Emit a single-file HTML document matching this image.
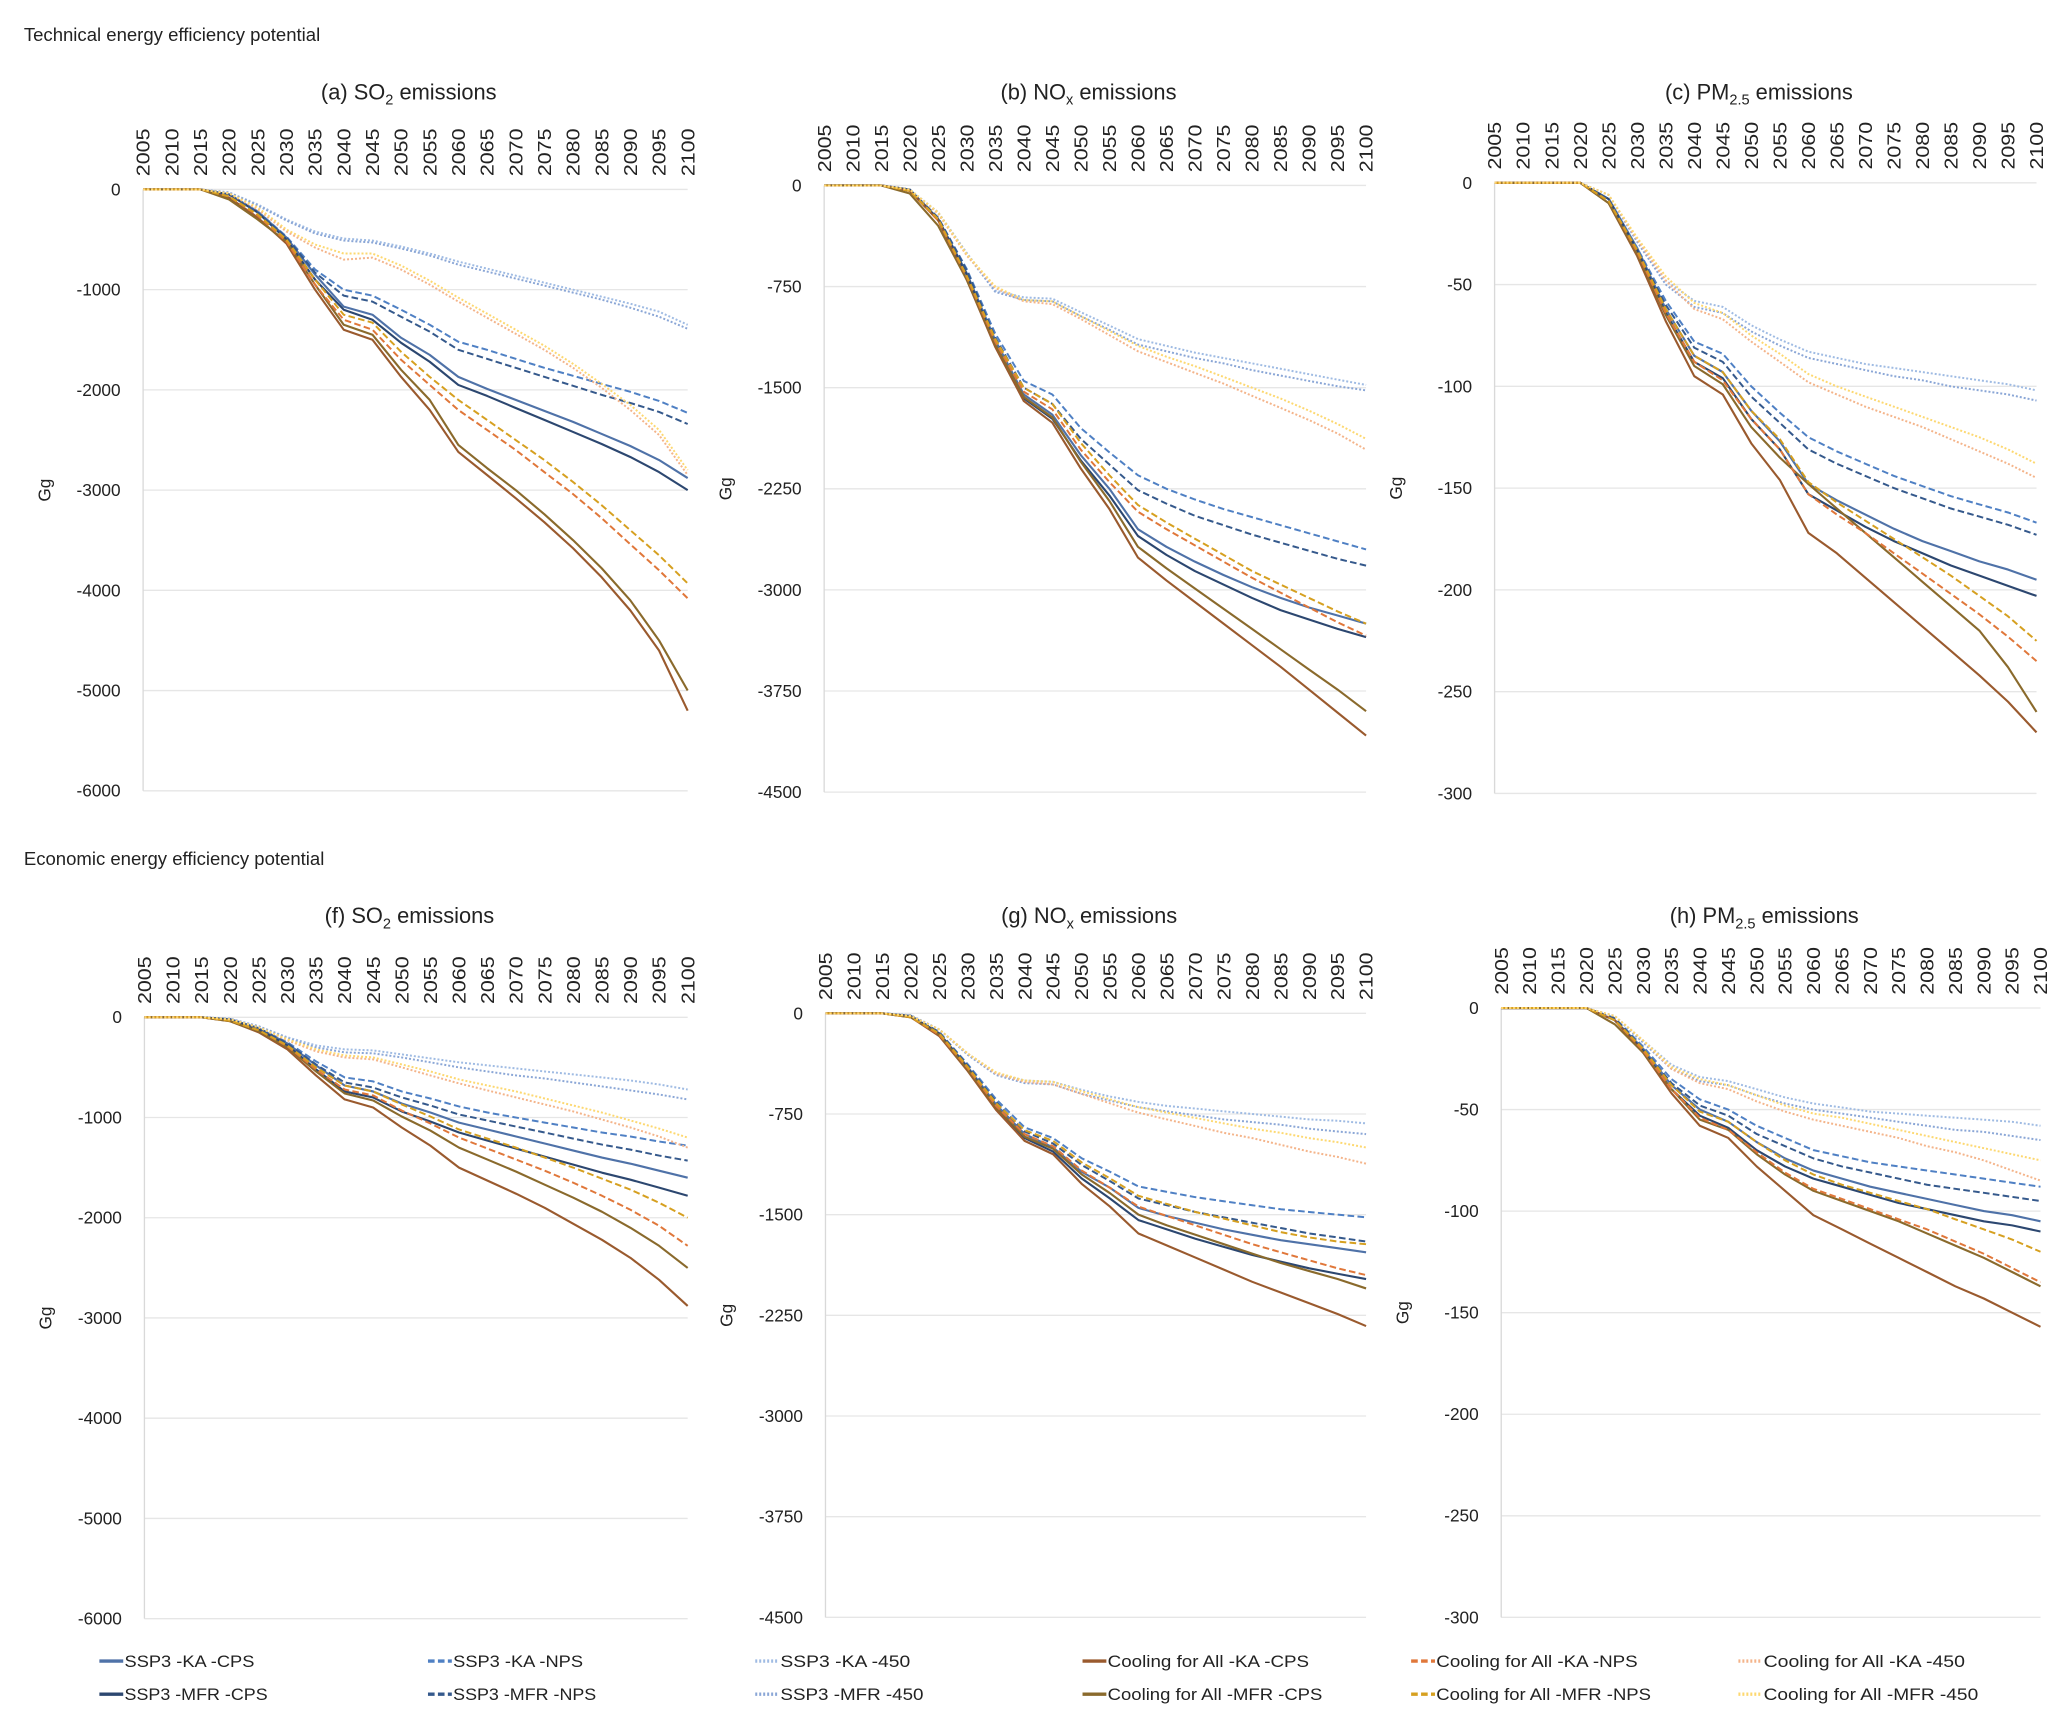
<!DOCTYPE html>
<html><head><meta charset="utf-8"><style>
html,body{margin:0;padding:0;background:#fff}
svg{display:block}
text{font-family:"Liberation Sans",sans-serif;fill:#222}
</style></head><body>
<svg id="chart" width="2067" height="1718" viewBox="0 0 1560 1297" preserveAspectRatio="none" xmlns="http://www.w3.org/2000/svg">
<rect width="1560" height="1297" fill="#fff"/>
<text x="18" y="31" font-size="14">Technical energy efficiency potential</text>
<text x="18" y="653" font-size="14">Economic energy efficiency potential</text>
</svg>
<script>
const years=[2005,2010,2015,2020,2025,2030,2035,2040,2045,2050,2055,2060,2065,2070,2075,2080,2085,2090,2095,2100];
const seriesNames=["SSP3 -KA -CPS","SSP3 -MFR -CPS","SSP3 -KA -NPS","SSP3 -MFR -NPS","SSP3 -KA -450","SSP3 -MFR -450","Cooling for All -KA -CPS","Cooling for All -MFR -CPS","Cooling for All -KA -NPS","Cooling for All -MFR -NPS","Cooling for All -KA -450","Cooling for All -MFR -450"];
const so2Ticks=[0,-1000,-2000,-3000,-4000,-5000,-6000];
const noxTicks=[0,-750,-1500,-2250,-3000,-3750,-4500];
const pmTicks=[0,-50,-100,-150,-200,-250,-300];

const a_ka_cps=[0,0,0,-50,-220,-480,-850,-1170,-1250,-1480,-1650,-1870,-1990,-2100,-2210,-2320,-2440,-2560,-2700,-2880];
const a_mfr_cps=[0,0,0,-50,-230,-500,-900,-1200,-1300,-1530,-1720,-1950,-2060,-2180,-2300,-2420,-2540,-2670,-2820,-3000];
const a_ka_nps=[0,0,0,-50,-220,-470,-800,-1000,-1060,-1200,-1350,-1520,-1600,-1690,-1780,-1860,-1940,-2020,-2110,-2230];
const a_mfr_nps=[0,0,0,-50,-230,-480,-830,-1060,-1120,-1270,-1420,-1600,-1690,-1780,-1870,-1960,-2050,-2130,-2220,-2340];
const a_ka_450=[0,0,0,-30,-150,-300,-420,-490,-510,-570,-640,-720,-790,-860,-930,-1000,-1070,-1140,-1220,-1350];
const a_mfr_450=[0,0,0,-30,-160,-310,-440,-510,-530,-590,-660,-750,-820,-890,-960,-1030,-1100,-1180,-1270,-1390];
const a_c_ka_cps=[0,0,0,-80,-280,-540,-1000,-1400,-1500,-1870,-2200,-2620,-2850,-3080,-3320,-3580,-3870,-4200,-4600,-5200];
const a_c_mfr_cps=[0,0,0,-100,-300,-520,-950,-1350,-1450,-1800,-2100,-2550,-2780,-3000,-3240,-3500,-3780,-4100,-4500,-5000];
const a_c_ka_nps=[0,0,0,-70,-260,-520,-950,-1300,-1400,-1700,-1950,-2200,-2400,-2600,-2820,-3040,-3280,-3540,-3800,-4080];
const a_c_mfr_nps=[0,0,0,-70,-250,-500,-900,-1250,-1330,-1620,-1870,-2100,-2300,-2500,-2700,-2920,-3150,-3400,-3650,-3930];
const a_c_ka_450=[0,0,0,-40,-200,-420,-580,-700,-680,-800,-950,-1120,-1280,-1440,-1600,-1780,-1980,-2200,-2450,-2850];
const a_c_mfr_450=[0,0,0,-40,-180,-400,-550,-640,-640,-760,-910,-1080,-1240,-1400,-1560,-1740,-1940,-2150,-2400,-2800];

const b_ka_cps=[0,0,0,-30,-250,-650,-1150,-1550,-1700,-2000,-2250,-2550,-2680,-2790,-2890,-2980,-3060,-3130,-3190,-3250];
const b_mfr_cps=[0,0,0,-30,-250,-660,-1180,-1580,-1730,-2040,-2300,-2600,-2740,-2860,-2960,-3060,-3150,-3220,-3290,-3350];
const b_ka_nps=[0,0,0,-30,-240,-620,-1100,-1450,-1550,-1800,-1980,-2150,-2250,-2330,-2400,-2460,-2520,-2580,-2640,-2700];
const b_mfr_nps=[0,0,0,-30,-240,-630,-1130,-1500,-1620,-1880,-2070,-2260,-2360,-2450,-2520,-2590,-2650,-2710,-2770,-2820];
const b_ka_450=[0,0,0,-30,-200,-500,-780,-830,-840,-940,-1040,-1140,-1190,-1240,-1280,-1320,-1360,-1400,-1440,-1480];
const b_mfr_450=[0,0,0,-30,-200,-510,-790,-850,-860,-970,-1070,-1180,-1230,-1280,-1320,-1370,-1410,-1450,-1490,-1520];
const b_c_ka_cps=[0,0,0,-40,-260,-700,-1200,-1600,-1760,-2100,-2400,-2760,-2930,-3090,-3250,-3410,-3570,-3740,-3910,-4080];
const b_c_mfr_cps=[0,0,0,-60,-300,-700,-1180,-1570,-1720,-2050,-2340,-2680,-2840,-2990,-3140,-3290,-3440,-3590,-3740,-3900];
const b_c_ka_nps=[0,0,0,-40,-260,-680,-1160,-1530,-1660,-1960,-2200,-2420,-2550,-2670,-2790,-2910,-3020,-3130,-3240,-3340];
const b_c_mfr_nps=[0,0,0,-40,-250,-670,-1140,-1500,-1620,-1910,-2150,-2370,-2500,-2620,-2740,-2860,-2960,-3060,-3160,-3250];
const b_c_ka_450=[0,0,0,-30,-210,-520,-760,-860,-880,-990,-1110,-1230,-1310,-1390,-1470,-1560,-1650,-1740,-1840,-1960];
const b_c_mfr_450=[0,0,0,-30,-200,-510,-750,-850,-860,-970,-1080,-1190,-1270,-1340,-1420,-1500,-1580,-1670,-1770,-1880];

const c_ka_cps=[0,0,0,0,-8,-32,-62,-85,-93,-112,-127,-148,-156,-163,-170,-176,-181,-186,-190,-195];
const c_mfr_cps=[0,0,0,0,-8,-33,-64,-88,-96,-116,-131,-153,-161,-169,-176,-182,-188,-193,-198,-203];
const c_ka_nps=[0,0,0,0,-8,-32,-58,-78,-84,-100,-113,-125,-132,-138,-144,-149,-154,-158,-162,-167];
const c_mfr_nps=[0,0,0,0,-8,-33,-60,-81,-88,-105,-118,-131,-138,-144,-150,-155,-160,-164,-168,-173];
const c_ka_450=[0,0,0,0,-6,-28,-48,-58,-61,-70,-77,-83,-86,-89,-91,-93,-95,-97,-99,-102];
const c_mfr_450=[0,0,0,0,-6,-29,-50,-61,-64,-73,-80,-86,-89,-92,-95,-97,-100,-102,-104,-107];
const c_c_ka_cps=[0,0,0,0,-10,-36,-68,-95,-104,-128,-146,-172,-182,-194,-206,-218,-230,-242,-255,-270];
const c_c_mfr_cps=[0,0,0,0,-10,-35,-65,-90,-99,-120,-135,-148,-160,-172,-184,-196,-208,-220,-238,-260];
const c_c_ka_nps=[0,0,0,0,-9,-34,-64,-88,-97,-116,-131,-153,-163,-172,-182,-192,-202,-212,-223,-235];
const c_c_mfr_nps=[0,0,0,0,-9,-33,-62,-85,-93,-112,-126,-147,-157,-166,-175,-184,-193,-203,-213,-225];
const c_c_ka_450=[0,0,0,0,-6,-28,-48,-62,-67,-78,-88,-98,-104,-110,-115,-120,-126,-132,-138,-145];
const c_c_mfr_450=[0,0,0,0,-6,-27,-46,-59,-64,-75,-84,-94,-100,-105,-110,-115,-120,-125,-131,-138];

const f_ka_cps=[0,0,0,-20,-110,-260,-480,-680,-740,-860,-950,-1050,-1120,-1190,-1260,-1330,-1400,-1460,-1530,-1600];
const f_mfr_cps=[0,0,0,-20,-120,-280,-520,-740,-800,-940,-1040,-1150,-1230,-1310,-1390,-1470,-1550,-1620,-1700,-1780];
const f_ka_nps=[0,0,0,-20,-110,-250,-440,-600,-640,-740,-810,-890,-950,-1000,-1050,-1100,-1150,-1190,-1240,-1280];
const f_mfr_nps=[0,0,0,-20,-110,-260,-470,-650,-700,-800,-880,-970,-1030,-1090,-1150,-1210,-1270,-1320,-1380,-1430];
const f_ka_450=[0,0,0,-15,-90,-200,-280,-320,-330,-370,-410,-450,-480,-510,-540,-570,-600,-630,-670,-720];
const f_mfr_450=[0,0,0,-15,-90,-210,-300,-350,-360,-400,-450,-500,-540,-580,-610,-650,-690,-730,-770,-820];
const f_c_ka_cps=[0,0,0,-40,-150,-320,-580,-820,-900,-1100,-1280,-1500,-1630,-1760,-1900,-2060,-2220,-2400,-2620,-2880];
const f_c_mfr_cps=[0,0,0,-40,-140,-300,-540,-760,-830,-990,-1130,-1300,-1420,-1540,-1670,-1800,-1940,-2100,-2280,-2500];
const f_c_ka_nps=[0,0,0,-35,-130,-290,-520,-720,-780,-930,-1060,-1200,-1310,-1420,-1530,-1650,-1780,-1920,-2080,-2280];
const f_c_mfr_nps=[0,0,0,-35,-130,-280,-500,-680,-740,-870,-990,-1120,-1210,-1300,-1400,-1500,-1610,-1720,-1850,-2000];
const f_c_ka_450=[0,0,0,-20,-100,-230,-340,-400,-420,-500,-580,-660,-730,-800,-870,-940,-1020,-1100,-1190,-1300];
const f_c_mfr_450=[0,0,0,-20,-100,-220,-320,-380,-400,-470,-540,-620,-680,-740,-810,-880,-950,-1030,-1110,-1200];

const g_ka_cps=[0,0,0,-20,-150,-400,-680,-900,-1000,-1180,-1300,-1450,-1510,-1560,-1610,-1650,-1690,-1720,-1750,-1780];
const g_mfr_cps=[0,0,0,-20,-150,-410,-700,-930,-1030,-1230,-1380,-1540,-1610,-1680,-1740,-1800,-1850,-1900,-1940,-1980];
const g_ka_nps=[0,0,0,-20,-140,-380,-640,-850,-930,-1080,-1180,-1290,-1330,-1370,-1400,-1430,-1460,-1480,-1500,-1520];
const g_mfr_nps=[0,0,0,-20,-140,-390,-660,-880,-970,-1130,-1250,-1380,-1430,-1480,-1520,-1560,-1600,-1640,-1670,-1700];
const g_ka_450=[0,0,0,-15,-120,-300,-450,-500,-510,-570,-620,-660,-690,-710,-730,-750,-770,-790,-800,-820];
const g_mfr_450=[0,0,0,-15,-120,-310,-460,-520,-530,-600,-650,-700,-730,-760,-790,-810,-830,-860,-880,-900];
const g_c_ka_cps=[0,0,0,-30,-170,-430,-720,-950,-1050,-1270,-1440,-1640,-1730,-1820,-1910,-2000,-2080,-2160,-2240,-2330];
const g_c_mfr_cps=[0,0,0,-30,-160,-420,-700,-920,-1010,-1200,-1340,-1500,-1580,-1650,-1720,-1790,-1860,-1920,-1980,-2050];
const g_c_ka_nps=[0,0,0,-30,-160,-410,-690,-900,-990,-1170,-1300,-1440,-1510,-1580,-1650,-1720,-1780,-1840,-1900,-1950];
const g_c_mfr_nps=[0,0,0,-30,-150,-400,-670,-870,-950,-1110,-1230,-1360,-1420,-1480,-1530,-1580,-1630,-1670,-1700,-1720];
const g_c_ka_450=[0,0,0,-20,-120,-300,-450,-510,-530,-600,-670,-740,-790,-840,-890,-930,-980,-1030,-1070,-1120];
const g_c_mfr_450=[0,0,0,-20,-120,-300,-440,-500,-510,-580,-640,-700,-740,-780,-820,-860,-890,-930,-960,-1000];

const h_ka_cps=[0,0,0,0,-6,-20,-38,-50,-56,-66,-74,-80,-84,-88,-91,-94,-97,-100,-102,-105];
const h_mfr_cps=[0,0,0,0,-6,-21,-40,-53,-59,-70,-78,-84,-88,-92,-96,-99,-102,-105,-107,-110];
const h_ka_nps=[0,0,0,0,-5,-19,-35,-45,-50,-58,-64,-70,-73,-76,-78,-80,-82,-84,-86,-88];
const h_mfr_nps=[0,0,0,0,-5,-20,-37,-48,-53,-62,-68,-74,-78,-81,-84,-87,-89,-91,-93,-95];
const h_ka_450=[0,0,0,0,-4,-16,-28,-34,-36,-40,-44,-47,-49,-51,-52,-53,-54,-55,-56,-58];
const h_mfr_450=[0,0,0,0,-4,-17,-30,-36,-38,-43,-47,-50,-52,-54,-56,-58,-60,-61,-63,-65];
const h_c_ka_cps=[0,0,0,0,-6,-22,-42,-58,-64,-78,-90,-102,-109,-116,-123,-130,-137,-143,-150,-157];
const h_c_mfr_cps=[0,0,0,0,-8,-22,-40,-55,-60,-72,-82,-90,-95,-100,-105,-111,-117,-123,-130,-137];
const h_c_ka_nps=[0,0,0,0,-6,-21,-40,-54,-60,-71,-81,-89,-94,-99,-104,-109,-115,-121,-128,-135];
const h_c_mfr_nps=[0,0,0,0,-6,-20,-38,-51,-56,-66,-75,-82,-87,-91,-95,-99,-104,-109,-114,-120];
const h_c_ka_450=[0,0,0,0,-4,-16,-30,-37,-40,-46,-51,-55,-58,-61,-64,-68,-71,-75,-80,-85];
const h_c_mfr_450=[0,0,0,0,-4,-16,-29,-35,-38,-43,-48,-52,-54,-57,-60,-63,-66,-69,-72,-75];

const styles=[
 {c:"#4f72a8",d:"",w:1.6},{c:"#2c4770",d:"",w:1.6},
 {c:"#4f80c4",d:"5,2.5",w:1.5},{c:"#35598c",d:"5,2.5",w:1.5},
 {c:"#9fbbe3",d:"1.5,1.5",w:1.5},{c:"#8aa6d6",d:"1.5,1.5",w:1.5},
 {c:"#9a5a2e",d:"",w:1.6},{c:"#8a6a2c",d:"",w:1.6},
 {c:"#e0773a",d:"5,2.5",w:1.5},{c:"#d6a020",d:"5,2.5",w:1.5},
 {c:"#f4b48a",d:"1.5,1.5",w:1.5},{c:"#fdd870",d:"1.5,1.5",w:1.5}];

const NS="http://www.w3.org/2000/svg";
const svg=document.getElementById("chart");
function mk(tag,attrs,parent){const e=document.createElementNS(NS,tag);for(const k in attrs)e.setAttribute(k,attrs[k]);(parent||svg).appendChild(e);return e;}

const panels=[
 {id:"a",pre:"(a) ",sp:"SO",sub:"2",x0:108,x1:519,y0:143,y1:597,ticks:so2Ticks,data:[a_ka_cps,a_mfr_cps,a_ka_nps,a_mfr_nps,a_ka_450,a_mfr_450,a_c_ka_cps,a_c_mfr_cps,a_c_ka_nps,a_c_mfr_nps,a_c_ka_450,a_c_mfr_450],ty:75},
 {id:"b",pre:"(b) ",sp:"NO",sub:"x",x0:622,x1:1031,y0:140,y1:598,ticks:noxTicks,data:[b_ka_cps,b_mfr_cps,b_ka_nps,b_mfr_nps,b_ka_450,b_mfr_450,b_c_ka_cps,b_c_mfr_cps,b_c_ka_nps,b_c_mfr_nps,b_c_ka_450,b_c_mfr_450],ty:75},
 {id:"c",pre:"(c) ",sp:"PM",sub:"2.5",x0:1128,x1:1537,y0:138,y1:599,ticks:pmTicks,data:[c_ka_cps,c_mfr_cps,c_ka_nps,c_mfr_nps,c_ka_450,c_mfr_450,c_c_ka_cps,c_c_mfr_cps,c_c_ka_nps,c_c_mfr_nps,c_c_ka_450,c_c_mfr_450],ty:75},
 {id:"f",pre:"(f) ",sp:"SO",sub:"2",x0:109,x1:519,y0:768,y1:1222,ticks:so2Ticks,data:[f_ka_cps,f_mfr_cps,f_ka_nps,f_mfr_nps,f_ka_450,f_mfr_450,f_c_ka_cps,f_c_mfr_cps,f_c_ka_nps,f_c_mfr_nps,f_c_ka_450,f_c_mfr_450],ty:697},
 {id:"g",pre:"(g) ",sp:"NO",sub:"x",x0:623,x1:1031,y0:765,y1:1221,ticks:noxTicks,data:[g_ka_cps,g_mfr_cps,g_ka_nps,g_mfr_nps,g_ka_450,g_mfr_450,g_c_ka_cps,g_c_mfr_cps,g_c_ka_nps,g_c_mfr_nps,g_c_ka_450,g_c_mfr_450],ty:697},
 {id:"h",pre:"(h) ",sp:"PM",sub:"2.5",x0:1133,x1:1540,y0:761,y1:1221,ticks:pmTicks,data:[h_ka_cps,h_mfr_cps,h_ka_nps,h_mfr_nps,h_ka_450,h_mfr_450,h_c_ka_cps,h_c_mfr_cps,h_c_ka_nps,h_c_mfr_nps,h_c_ka_450,h_c_mfr_450],ty:697}
];

panels.forEach(p=>{
 const g=mk("g",{});
 
 
 const ymin=p.ticks[p.ticks.length-1];
 const xs=i=>p.x0+(p.x1-p.x0)*(years[i]-years[0])/(years[years.length-1]-years[0]);
 const ys=v=>p.y0+(p.y1-p.y0)*(v/ymin);
 p.ticks.forEach(t=>{
  const ln=mk("line",{x1:p.x0,x2:p.x1,y1:ys(t),y2:ys(t),stroke:"#e6e6e6","stroke-width":1},g);
  
  
  const tx=mk("text",{x:p.x0-17,y:ys(t)+4.5,"font-size":13,"text-anchor":"end"},g);
  tx.textContent=t;
  
  
 });
 const ax=mk("line",{x1:p.x0,x2:p.x0,y1:p.y0,y2:p.y1,stroke:"#d9d9d9","stroke-width":1},g);
 
 
 years.forEach((yr,i)=>{
  const x=xs(i)+5, y=p.y0-10;
  const tx=mk("text",{x:x,y:y,"font-size":14,textLength:36,lengthAdjust:"spacingAndGlyphs",transform:`rotate(-90 ${x} ${y})`},g);
  tx.textContent=yr;
  
  
 });
 const yx=p.x0-70, yy=(p.y0+p.y1)/2;
 const yt=mk("text",{x:yx,y:yy,"font-size":13,"text-anchor":"middle",transform:`rotate(-90 ${yx} ${yy})`},g);
 yt.textContent="Gg";
 
 
 const tt=mk("text",{x:(p.x0+p.x1)/2-5,y:p.ty,"font-size":16.5,"text-anchor":"middle"},g);
 
 
 const t1=mk("tspan",{},tt);t1.textContent=p.pre+p.sp;
 const t2=mk("tspan",{"font-size":11,dy:4},tt);t2.textContent=p.sub;
 const t3=mk("tspan",{dy:-4},tt);t3.textContent=" emissions";
 p.data.forEach((arr,si)=>{
  const s=styles[si];
  const pts=arr.map((v,i)=>xs(i).toFixed(1)+","+ys(v).toFixed(1)).join(" ");
  const pl=mk("polyline",{points:pts,fill:"none",stroke:s.c,"stroke-width":s.w,"stroke-dasharray":s.d,"stroke-linejoin":"round"},g);
  
  
 });
});

const legCols=[75,323,570,817,1065,1312];
const legRows=[1254,1279];
const legOrder=[[0,1],[2,3],[4,5],[6,7],[8,9],[10,11]];
legOrder.forEach((pair,ci)=>{
 pair.forEach((si,ri)=>{
  const s=styles[si];
  const gi=mk("g",{});
  
  
  const l=mk("line",{x1:legCols[ci],x2:legCols[ci]+18,y1:legRows[ri],y2:legRows[ri],stroke:s.c,"stroke-width":2.5,"stroke-dasharray":s.d},gi);
  
  
  const t=mk("text",{x:legCols[ci]+19,y:legRows[ri]+4.5,"font-size":12.5,textLength:seriesNames[si].startsWith("Cool")?(seriesNames[si].indexOf("MFR")>0?162:152):(seriesNames[si].indexOf("MFR")>0?108:98),lengthAdjust:"spacingAndGlyphs"},gi);
  t.textContent=seriesNames[si];
  
  
 });
});
</script>
</body></html>
